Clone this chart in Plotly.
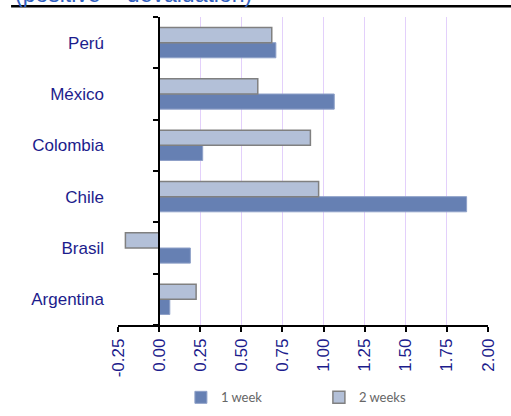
import plotly.graph_objects as go

# Exchange-rate change by country (positive = devaluation), %
countries = ["Argentina", "Brasil", "Chile", "Colombia", "México", "Perú"]
one_week = [0.065, 0.19, 1.87, 0.265, 1.065, 0.71]
two_weeks = [0.225, -0.205, 0.97, 0.92, 0.60, 0.685]
x_ticks = [-0.25, 0.0, 0.25, 0.5, 0.75, 1.0, 1.25, 1.5, 1.75, 2.0]
x_labels = ["-0.25", "0.00", "0.25", "0.50", "0.75", "1.00", "1.25", "1.50", "1.75", "2.00"]

x_range = [x_ticks[0], x_ticks[-1]]
navy = "#1c1c8c"

fig = go.Figure()
fig.add_trace(go.Bar(
    y=countries, x=one_week, orientation="h", name="1 week",
    marker=dict(color="#6680b3", line=dict(color="#8ea0c8", width=1)),
))
fig.add_trace(go.Bar(
    y=countries, x=two_weeks, orientation="h", name="2 weeks",
    marker=dict(color="#b3c0d8", line=dict(color="#808080", width=1.5)),
))
# carrier for the category axis drawn at x = 0
fig.add_trace(go.Scatter(
    y=countries, x=[0] * len(countries), yaxis="y2", mode="markers",
    marker=dict(opacity=0), showlegend=False, hoverinfo="skip",
))

zero_pos = (0 - x_range[0]) / (x_range[1] - x_range[0])

fig.update_layout(
    width=511, height=416,
    margin=dict(l=118, r=23, t=17, b=91, autoexpand=False),
    plot_bgcolor="white", paper_bgcolor="white",
    barmode="group", bargap=0.41, bargroupgap=0,
    font=dict(family="Liberation Sans, Arial, sans-serif", color=navy),
    xaxis=dict(
        range=x_range, tickvals=x_ticks, ticktext=x_labels, tickangle=-90,
        tickfont=dict(size=17, color=navy),
        showgrid=True, gridcolor="#e3d0fb", gridwidth=1,
        showline=True, linecolor="black", linewidth=1.5,
        ticks="outside", ticklen=5, tickcolor="black", tickwidth=1.5,
        zeroline=False, fixedrange=True, automargin=False,
    ),
    yaxis=dict(
        type="category", categoryarray=countries, range=[-0.5, 5.5],
        tickfont=dict(size=17, color=navy), ticklabelstandoff=13,
        showgrid=False, showline=False, ticks="", zeroline=False,
        automargin=False,
    ),
    yaxis2=dict(
        type="category", categoryarray=countries, range=[-0.5, 5.5],
        overlaying="y", anchor="free", position=zero_pos,
        showline=True, linecolor="black", linewidth=1.5,
        ticks="outside", tickson="boundaries", ticklen=5,
        tickcolor="black", tickwidth=1.5,
        showticklabels=False, showgrid=False, zeroline=False,
        automargin=False,
    ),
    legend=dict(
        orientation="h", x=0.17, xanchor="left", y=-0.235, yanchor="middle",
        font=dict(family="Lato, sans-serif", size=13, color="#666666"),
        entrywidth=93, entrywidthmode="pixels", itemwidth=30,
        bgcolor="rgba(0,0,0,0)",
    ),
    showlegend=True,
)

# heading strip above the plot
fig.add_annotation(
    text="(positive = devaluation)", xref="paper", yref="paper",
    x=-0.285, y=1.026, xanchor="left", yanchor="bottom", showarrow=False,
    font=dict(size=23, color="#3060c0", family="Liberation Sans, Arial, sans-serif"),
)
fig.add_shape(
    type="line", xref="paper", yref="paper",
    x0=-0.289, x1=1.07, y0=1.035, y1=1.035,
    line=dict(color="black", width=2.5),
)

fig.write_html("out.html")
